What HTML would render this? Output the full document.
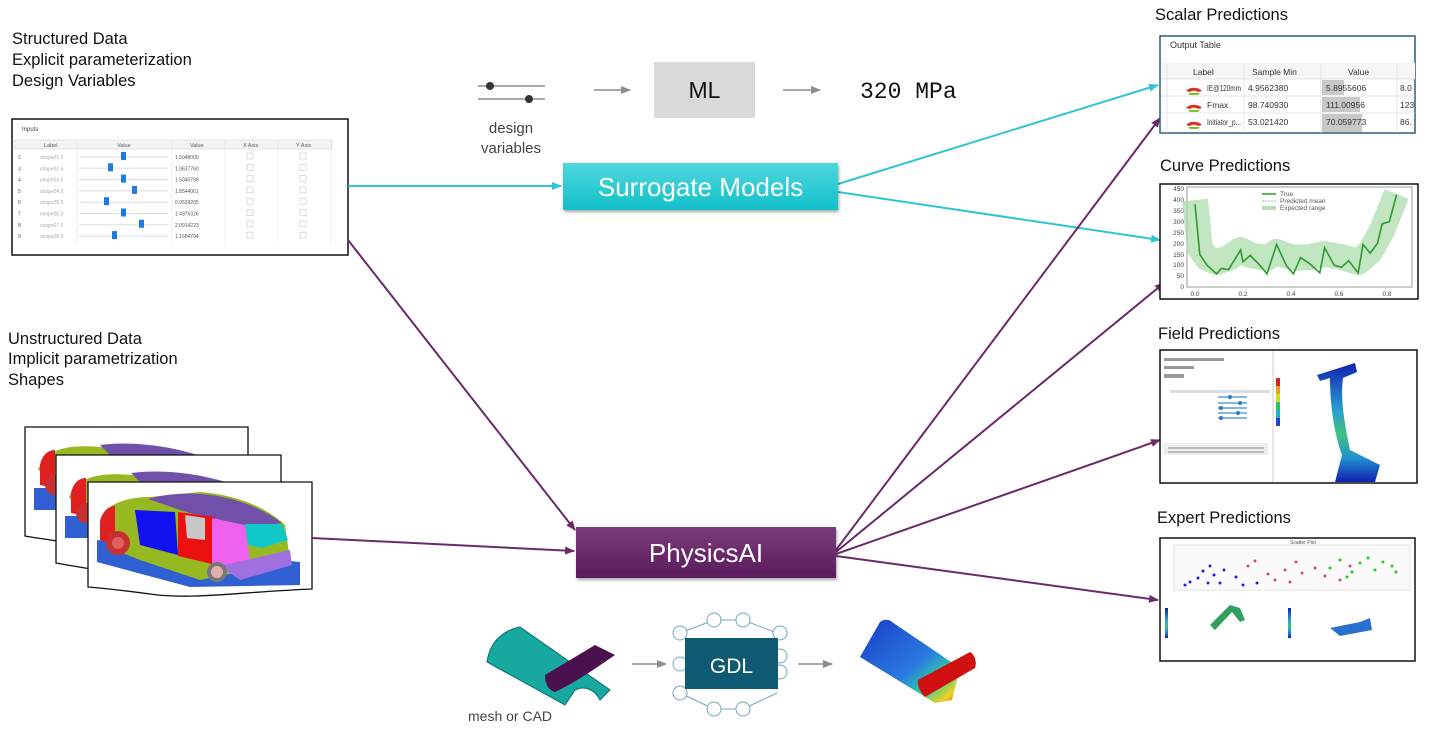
<!DOCTYPE html>
<html><head><meta charset="utf-8"><style>
html,body{margin:0;padding:0;background:#fff;}
svg{display:block;font-family:"Liberation Sans",Arial,sans-serif;}
</style></head><body>
<svg width="1430" height="737" viewBox="0 0 1430 737" xmlns="http://www.w3.org/2000/svg">
<defs>
<linearGradient id="cy" x1="0" y1="0" x2="0" y2="1"><stop offset="0" stop-color="#4fd8dd"/><stop offset="1" stop-color="#12bfc9"/></linearGradient>
<linearGradient id="pu" x1="0" y1="0" x2="0" y2="1"><stop offset="0" stop-color="#7a3c7a"/><stop offset="1" stop-color="#5a1a5c"/></linearGradient>
<linearGradient id="tube" x1="0" y1="0" x2="1" y2="1"><stop offset="0" stop-color="#1a3cc8"/><stop offset="0.55" stop-color="#2a7ae0"/><stop offset="0.75" stop-color="#30d0a0"/><stop offset="0.9" stop-color="#f0d020"/><stop offset="1" stop-color="#e04010"/></linearGradient>
<linearGradient id="beam" x1="0" y1="0" x2="0" y2="1"><stop offset="0" stop-color="#1020b0"/><stop offset="0.4" stop-color="#2aa0d0"/><stop offset="0.6" stop-color="#40c080"/><stop offset="0.8" stop-color="#2090d0"/><stop offset="1" stop-color="#1020b0"/></linearGradient>
<marker id="ac" markerWidth="10" markerHeight="10" refX="9" refY="5" orient="auto" markerUnits="userSpaceOnUse"><path d="M0,1 L10,5 L0,9 Z" fill="#2ec4d6"/></marker>
<marker id="ap" markerWidth="10" markerHeight="10" refX="9" refY="5" orient="auto" markerUnits="userSpaceOnUse"><path d="M0,1 L10,5 L0,9 Z" fill="#6a2a6a"/></marker>
<marker id="ag" markerWidth="10" markerHeight="10" refX="9" refY="5" orient="auto" markerUnits="userSpaceOnUse"><path d="M0,1 L10,5 L0,9 Z" fill="#8c8c8c"/></marker>
<filter id="sh" x="-5%" y="-10%" width="110%" height="130%"><feDropShadow dx="1" dy="2" stdDeviation="1.5" flood-opacity="0.35"/></filter>
</defs>

<!-- left texts -->
<g font-size="16.5" fill="#111">
<text x="12" y="44">Structured Data</text>
<text x="12" y="65">Explicit parameterization</text>
<text x="12" y="86">Design Variables</text>
<text x="8" y="344">Unstructured Data</text>
<text x="8" y="364">Implicit parametrization</text>
<text x="8" y="385">Shapes</text>
</g>

<!-- Inputs table -->
<rect x="12" y="119" width="336" height="136" fill="#fff" stroke="#111" stroke-width="1.5"/>
<text x="22" y="131" font-size="6" fill="#444">Inputs</text>
<rect x="14" y="140" width="318" height="9" fill="#f4f4f4" stroke="#ccc" stroke-width="0.5"/>
<g font-size="5.5" fill="#555">
<text x="44" y="147">Label</text><text x="117" y="147">Value</text><text x="190" y="147">Value</text><text x="243" y="147">X Axis</text><text x="296" y="147">Y Axis</text>
</g>
<g stroke="#ddd" stroke-width="0.5"><line x1="77" y1="140" x2="77" y2="243"/><line x1="172" y1="140" x2="172" y2="243"/><line x1="225" y1="140" x2="225" y2="243"/><line x1="278" y1="140" x2="278" y2="243"/><line x1="331" y1="140" x2="331" y2="243"/></g>
<g font-size="5" fill="#555">
<g><text x="18" y="159">2</text><text x="40" y="159" fill="#aaa">shape01.5</text><line x1="79" y1="157" x2="168" y2="157" stroke="#ddd"/><rect x="121" y="152" width="5" height="8" fill="#1e7be0"/><text x="175" y="159">1.5048000</text><rect x="247" y="153" width="6" height="6" fill="none" stroke="#bbb" stroke-width="0.5"/><rect x="300" y="153" width="6" height="6" fill="none" stroke="#bbb" stroke-width="0.5"/></g>
<g transform="translate(0,11.3)"><text x="18" y="159">3</text><text x="40" y="159" fill="#aaa">shape02.5</text><line x1="79" y1="157" x2="168" y2="157" stroke="#ddd"/><rect x="108" y="152" width="5" height="8" fill="#1e7be0"/><text x="175" y="159">1.0637760</text><rect x="247" y="153" width="6" height="6" fill="none" stroke="#bbb" stroke-width="0.5"/><rect x="300" y="153" width="6" height="6" fill="none" stroke="#bbb" stroke-width="0.5"/></g>
<g transform="translate(0,22.6)"><text x="18" y="159">4</text><text x="40" y="159" fill="#aaa">shape03.5</text><line x1="79" y1="157" x2="168" y2="157" stroke="#ddd"/><rect x="121" y="152" width="5" height="8" fill="#1e7be0"/><text x="175" y="159">1.5040798</text><rect x="247" y="153" width="6" height="6" fill="none" stroke="#bbb" stroke-width="0.5"/><rect x="300" y="153" width="6" height="6" fill="none" stroke="#bbb" stroke-width="0.5"/></g>
<g transform="translate(0,33.9)"><text x="18" y="159">5</text><text x="40" y="159" fill="#aaa">shape04.5</text><line x1="79" y1="157" x2="168" y2="157" stroke="#ddd"/><rect x="132" y="152" width="5" height="8" fill="#1e7be0"/><text x="175" y="159">1.8544061</text><rect x="247" y="153" width="6" height="6" fill="none" stroke="#bbb" stroke-width="0.5"/><rect x="300" y="153" width="6" height="6" fill="none" stroke="#bbb" stroke-width="0.5"/></g>
<g transform="translate(0,45.2)"><text x="18" y="159">6</text><text x="40" y="159" fill="#aaa">shape05.5</text><line x1="79" y1="157" x2="168" y2="157" stroke="#ddd"/><rect x="104" y="152" width="5" height="8" fill="#1e7be0"/><text x="175" y="159">0.9539205</text><rect x="247" y="153" width="6" height="6" fill="none" stroke="#bbb" stroke-width="0.5"/><rect x="300" y="153" width="6" height="6" fill="none" stroke="#bbb" stroke-width="0.5"/></g>
<g transform="translate(0,56.5)"><text x="18" y="159">7</text><text x="40" y="159" fill="#aaa">shape06.5</text><line x1="79" y1="157" x2="168" y2="157" stroke="#ddd"/><rect x="121" y="152" width="5" height="8" fill="#1e7be0"/><text x="175" y="159">1.4976326</text><rect x="247" y="153" width="6" height="6" fill="none" stroke="#bbb" stroke-width="0.5"/><rect x="300" y="153" width="6" height="6" fill="none" stroke="#bbb" stroke-width="0.5"/></g>
<g transform="translate(0,67.8)"><text x="18" y="159">8</text><text x="40" y="159" fill="#aaa">shape07.5</text><line x1="79" y1="157" x2="168" y2="157" stroke="#ddd"/><rect x="139" y="152" width="5" height="8" fill="#1e7be0"/><text x="175" y="159">2.0914223</text><rect x="247" y="153" width="6" height="6" fill="none" stroke="#bbb" stroke-width="0.5"/><rect x="300" y="153" width="6" height="6" fill="none" stroke="#bbb" stroke-width="0.5"/></g>
<g transform="translate(0,79.1)"><text x="18" y="159">9</text><text x="40" y="159" fill="#aaa">shape08.5</text><line x1="79" y1="157" x2="168" y2="157" stroke="#ddd"/><rect x="112" y="152" width="5" height="8" fill="#1e7be0"/><text x="175" y="159">1.1684704</text><rect x="247" y="153" width="6" height="6" fill="none" stroke="#bbb" stroke-width="0.5"/><rect x="300" y="153" width="6" height="6" fill="none" stroke="#bbb" stroke-width="0.5"/></g>
</g>

<!-- car frames -->
<g stroke="#111" stroke-width="1.3">
<g>
<path d="M25,427 H248 V540 C180,545 120,555 80,545 C55,540 35,538 25,536 Z" fill="#fff"/>
<path d="M34,488 H160 L168,510 H34 Z" fill="#2f5fd0" stroke="none"/>
<path d="M38,470 C45,448 70,443 110,448 L200,455 L230,470 L70,485 Z" fill="#96b820" stroke="none"/>
<path d="M40,465 C42,455 48,450 55,450 L55,488 L40,485 Z" fill="#e02020" stroke="none"/>
<circle cx="55" cy="485" r="10" fill="#c83030" stroke="none"/>
<path d="M100,445 C140,440 190,448 230,468 L180,470 L110,455 Z" fill="#7050a8" stroke="none"/>
</g>
<g>
<path d="M56,455 H281 V565 C210,570 150,580 110,572 C85,568 66,565 56,563 Z" fill="#fff"/>
<path d="M65,516 H190 L198,538 H65 Z" fill="#2f5fd0" stroke="none"/>
<path d="M69,498 C76,476 101,471 141,476 L231,483 L261,498 L101,513 Z" fill="#96b820" stroke="none"/>
<path d="M71,493 C73,483 79,478 86,478 L86,516 L71,513 Z" fill="#e02020" stroke="none"/>
<circle cx="86" cy="513" r="10" fill="#c83030" stroke="none"/>
<path d="M131,473 C171,468 221,476 261,496 L211,498 L141,483 Z" fill="#7050a8" stroke="none"/>
</g>
<g>
<path d="M88,482 H312 V589 C240,592 190,600 150,594 C120,590 100,588 88,587 Z" fill="#fff"/>
</g>
</g>
<!-- front car -->
<path d="M97,540 L97,562 L190,587 L300,585 L300,562 Z" fill="#2f5fd0"/>
<path d="M100,520 C105,505 125,497 150,497 L200,492 C240,495 270,510 285,525 L290,560 L250,570 L200,580 L140,560 L110,548 Z" fill="#96b820"/>
<path d="M148,499 C185,488 240,492 282,523 L240,528 L180,510 Z" fill="#7050a8"/>
<path d="M135,510 L175,512 L178,555 L140,545 Z" fill="#1010f0"/>
<path d="M178,512 L215,517 L212,564 L178,556 Z" fill="#ee1010"/>
<path d="M185,515 L205,518 L205,540 L187,538 Z" fill="#c8c8c8"/>
<path d="M212,518 L245,525 L250,560 L220,568 L212,564 Z" fill="#ee60ee"/>
<path d="M245,524 L282,524 L288,540 L262,548 L248,545 Z" fill="#10c8c8"/>
<path d="M220,566 L290,550 L292,565 L240,580 Z" fill="#a070e0"/>
<path d="M100,522 C102,512 108,506 115,506 L115,545 L100,540 Z" fill="#e02020"/>
<circle cx="118" cy="543" r="12" fill="#c83030"/><circle cx="118" cy="543" r="6" fill="#e06060"/>
<circle cx="217" cy="572" r="10" fill="#777"/><circle cx="217" cy="572" r="6" fill="#e0b0b0"/>

<!-- connectors -->
<g fill="none" stroke-width="2">
<line x1="348" y1="186" x2="561" y2="186" stroke="#2ec4d6" marker-end="url(#ac)"/>
<line x1="838" y1="184" x2="1158" y2="85" stroke="#2ec4d6" marker-end="url(#ac)"/>
<line x1="838" y1="192" x2="1160" y2="240" stroke="#2ec4d6" marker-end="url(#ac)"/>
<line x1="348" y1="240" x2="575" y2="530" stroke="#6a2a6a" marker-end="url(#ap)"/>
<line x1="312" y1="538" x2="574" y2="551" stroke="#6a2a6a" marker-end="url(#ap)"/>
<line x1="836" y1="550" x2="1160" y2="118" stroke="#6a2a6a" marker-end="url(#ap)"/>
<line x1="836" y1="552" x2="1164" y2="283" stroke="#6a2a6a" marker-end="url(#ap)"/>
<line x1="836" y1="554" x2="1160" y2="440" stroke="#6a2a6a" marker-end="url(#ap)"/>
<line x1="836" y1="556" x2="1158" y2="600" stroke="#6a2a6a" marker-end="url(#ap)"/>
</g>

<!-- ML top row -->
<g stroke="#555" stroke-width="1"><line x1="478" y1="86" x2="545" y2="86"/><line x1="478" y1="99" x2="545" y2="99"/></g>
<circle cx="490" cy="86" r="4" fill="#333"/><circle cx="529" cy="99" r="4" fill="#333"/>
<text x="511" y="133" font-size="15" fill="#444" text-anchor="middle">design</text>
<text x="511" y="153" font-size="15" fill="#444" text-anchor="middle">variables</text>
<line x1="594" y1="90" x2="630" y2="90" stroke="#8c8c8c" stroke-width="1.5" marker-end="url(#ag)"/>
<rect x="654" y="62" width="101" height="56" fill="#d9d9d9"/>
<text x="704.5" y="98" font-size="23" text-anchor="middle" fill="#111">ML</text>
<line x1="783" y1="90" x2="820" y2="90" stroke="#8c8c8c" stroke-width="1.5" marker-end="url(#ag)"/>
<text x="860" y="98" font-size="23" font-family="Liberation Mono, monospace" fill="#111">320 MPa</text>

<!-- Surrogate -->
<rect x="563" y="163" width="275" height="47" fill="url(#cy)" filter="url(#sh)"/>
<text x="700.5" y="196" font-size="26" fill="#fff" text-anchor="middle">Surrogate Models</text>

<!-- PhysicsAI -->
<rect x="576" y="527" width="260" height="51" fill="url(#pu)" filter="url(#sh)"/>
<text x="706" y="562" font-size="26" fill="#fff" text-anchor="middle">PhysicsAI</text>

<!-- bottom GDL row -->
<path d="M487,662 C490,640 505,630 520,627 L610,690 L600,700 C595,690 585,685 575,690 L565,705 Z" fill="#17a8a0" stroke="#0c6f70" stroke-width="1"/>
<path d="M545,675 L595,645 L615,655 C600,665 580,680 555,692 C548,690 545,683 545,675 Z" fill="#4a1050"/>
<text x="468" y="721" font-size="14" fill="#444">mesh or CAD</text>
<line x1="632" y1="664" x2="666" y2="664" stroke="#8c8c8c" stroke-width="1.5" marker-end="url(#ag)"/>
<g stroke="#6fa8b8" stroke-width="1" fill="#fff">
<line x1="714" y1="620" x2="743" y2="620"/><line x1="714" y1="709" x2="743" y2="709"/>
<line x1="680" y1="633" x2="714" y2="620"/><line x1="777" y1="633" x2="743" y2="620"/>
<line x1="680" y1="693" x2="714" y2="709"/><line x1="777" y1="693" x2="743" y2="709"/>
<circle cx="714" cy="620" r="7"/><circle cx="743" cy="620" r="7"/>
<circle cx="680" cy="633" r="7"/><circle cx="780" cy="633" r="7"/>
<circle cx="680" cy="664" r="7"/><circle cx="780" cy="656" r="7"/>
<circle cx="680" cy="693" r="7"/><circle cx="780" cy="672" r="7"/>
<circle cx="714" cy="709" r="7"/><circle cx="743" cy="709" r="7"/>
</g>
<rect x="685" y="638" width="93" height="51" fill="#0e5a73"/>
<text x="731.5" y="673" font-size="21" fill="#fff" text-anchor="middle">GDL</text>
<line x1="798" y1="664" x2="832" y2="664" stroke="#8c8c8c" stroke-width="1.5" marker-end="url(#ag)"/>
<path d="M860,657 L880,622 C885,618 890,620 892,622 L960,668 L952,700 L935,703 Z" fill="url(#tube)"/>
<path d="M918,680 L970,652 C975,655 977,662 975,668 L925,697 C920,692 917,686 918,680 Z" fill="#d01010"/>

<!-- Right titles -->
<g font-size="16.5" fill="#111">
<text x="1155" y="20">Scalar Predictions</text>
<text x="1160" y="171">Curve Predictions</text>
<text x="1158" y="339">Field Predictions</text>
<text x="1157" y="523">Expert Predictions</text>
</g>

<!-- Scalar table -->
<rect x="1160" y="36" width="255" height="97" fill="#fff" stroke="#2a5d78" stroke-width="1.5"/>
<text x="1170" y="48" font-size="9" fill="#333">Output Table</text>
<rect x="1161" y="63" width="254" height="16" fill="#f6f6f6"/>
<g stroke="#ddd" stroke-width="0.7"><line x1="1167" y1="63" x2="1167" y2="133"/><line x1="1244" y1="63" x2="1244" y2="133"/><line x1="1321" y1="63" x2="1321" y2="133"/><line x1="1397" y1="63" x2="1397" y2="133"/><line x1="1161" y1="79" x2="1415" y2="79"/><line x1="1161" y1="96" x2="1415" y2="96"/><line x1="1161" y1="113" x2="1415" y2="113"/></g>
<g font-size="8.5" fill="#333">
<text x="1193" y="75">Label</text><text x="1252" y="75">Sample Min</text><text x="1348" y="75">Value</text>
<rect x="1322" y="80" width="22" height="15" fill="#c8c8c8"/><rect x="1322" y="97" width="38" height="15" fill="#c8c8c8"/><rect x="1322" y="114" width="40" height="18" fill="#c8c8c8"/>
<text x="1207" y="91" textLength="34" lengthAdjust="spacingAndGlyphs">IE@120mm</text><text x="1248" y="91">4.9562380</text><text x="1326" y="91">5.8955606</text><text x="1400" y="91">8.0</text>
<text x="1207" y="108">Fmax</text><text x="1248" y="108">98.740930</text><text x="1326" y="108">111.00956</text><text x="1400" y="108">123</text>
<text x="1207" y="125" textLength="34" lengthAdjust="spacingAndGlyphs">Initiator_p...</text><text x="1248" y="125">53.021420</text><text x="1326" y="125">70.059773</text><text x="1400" y="125">86.</text>
</g>
<g>
<path d="M1186,91 a9,6 0 0 1 16,0 l-4,1 a5,3 0 0 0 -8,0 z" fill="#e03020"/><path d="M1188,93 l12,0 l-2,2 l-8,0z" fill="#80c020"/>
<path d="M1186,108 a9,6 0 0 1 16,0 l-4,1 a5,3 0 0 0 -8,0 z" fill="#e03020"/><path d="M1188,110 l12,0 l-2,2 l-8,0z" fill="#80c020"/>
<path d="M1186,125 a9,6 0 0 1 16,0 l-4,1 a5,3 0 0 0 -8,0 z" fill="#e03020"/><path d="M1188,127 l12,0 l-2,2 l-8,0z" fill="#80c020"/>
</g>

<!-- Curve plot -->
<rect x="1160" y="184" width="258" height="115" fill="#fff" stroke="#111" stroke-width="1.5"/>
<rect x="1187" y="187" width="225" height="100" fill="none" stroke="#555" stroke-width="0.6"/>
<g font-size="6.5" fill="#444" text-anchor="end">
<text x="1184" y="191">450</text><text x="1184" y="202">400</text><text x="1184" y="213">350</text><text x="1184" y="224">300</text><text x="1184" y="235">250</text><text x="1184" y="246">200</text><text x="1184" y="257">150</text><text x="1184" y="267">100</text><text x="1184" y="278">50</text><text x="1184" y="289">0</text>
</g>
<g font-size="6.5" fill="#444" text-anchor="middle"><text x="1195" y="296">0.0</text><text x="1243" y="296">0.2</text><text x="1291" y="296">0.4</text><text x="1339" y="296">0.6</text><text x="1387" y="296">0.8</text></g>
<path d="M1195,200 L1199.8,248 L1207,258 L1216.6,262 L1228.6,258 L1240.6,250 L1250.2,255 L1267,258 L1276.6,252 L1293.4,258 L1310.2,257 L1324.6,254 L1341.4,257 L1358.2,262 L1370.2,252 L1382.2,230 L1396.6,194" fill="none" stroke="#a8dca8" stroke-width="26" stroke-opacity="0.7" stroke-linejoin="round"/>
<path d="M1195,204.2 L1199.8,254.3 L1207,265.2 L1216.6,273.9 L1221.4,268.5 L1228.6,269.6 L1240.6,249.9 L1243,261.9 L1250.2,255.4 L1259.8,265.2 L1267,273.9 L1276.6,244.5 L1286.2,265.2 L1293.4,273.9 L1300.6,257.6 L1310.2,264.1 L1319.8,272.8 L1324.6,247.8 L1334.2,265.2 L1341.4,267.4 L1348.6,260.8 L1358.2,272.8 L1363,244.5 L1370.2,253.2 L1377.4,243.4 L1382.2,223.8 L1389.4,221.6 L1396.6,194.4" fill="none" stroke="#2e9a2e" stroke-width="1.6"/>
<g font-size="6.5" fill="#555"><line x1="1262" y1="194" x2="1276" y2="194" stroke="#2e9a2e" stroke-width="1.5"/><text x="1280" y="196">True</text>
<line x1="1262" y1="201" x2="1276" y2="201" stroke="#8ccf8c" stroke-dasharray="2,1"/><text x="1280" y="203">Predicted mean</text>
<rect x="1262" y="206" width="14" height="4" fill="#b8e0b8"/><text x="1280" y="210">Expected range</text></g>

<!-- Field -->
<rect x="1160" y="350" width="257" height="133" fill="#fff" stroke="#111" stroke-width="1.5"/>
<line x1="1273" y1="351" x2="1273" y2="482" stroke="#ccc"/>
<g fill="#999"><rect x="1164" y="358" width="60" height="3"/><rect x="1164" y="366" width="30" height="3"/><rect x="1164" y="374" width="20" height="4"/><rect x="1170" y="390" width="100" height="3" fill="#ddd"/></g>
<g stroke="#3a8ad0" stroke-width="1.2"><line x1="1218" y1="397" x2="1247" y2="397"/><line x1="1218" y1="403" x2="1247" y2="403"/><line x1="1218" y1="408" x2="1247" y2="408"/><line x1="1218" y1="413" x2="1247" y2="413"/><line x1="1218" y1="418" x2="1247" y2="418"/></g>
<g fill="#2a7ac8"><circle cx="1230" cy="397" r="2"/><circle cx="1240" cy="403" r="2"/><circle cx="1221" cy="408" r="2"/><circle cx="1238" cy="413" r="2"/><circle cx="1221" cy="418" r="2"/></g>
<rect x="1163" y="443" width="105" height="12" fill="#eee"/>
<g fill="#bbb"><rect x="1168" y="447" width="96" height="2"/><rect x="1168" y="451" width="96" height="2"/></g>
<rect x="1276" y="378" width="4" height="8" fill="#e02020"/><rect x="1276" y="386" width="4" height="8" fill="#f0a020"/><rect x="1276" y="394" width="4" height="8" fill="#d0e020"/><rect x="1276" y="402" width="4" height="8" fill="#30c060"/><rect x="1276" y="410" width="4" height="8" fill="#20b0d0"/><rect x="1276" y="418" width="4" height="8" fill="#2040d0"/>
<path d="M1317,375 L1355,363 L1357,372 L1343,378 C1340,400 1345,425 1350,450 L1380,465 L1375,482 L1335,482 L1342,455 C1333,430 1330,400 1330,378 L1320,381 Z" fill="url(#beam)"/>

<!-- Expert -->
<rect x="1160" y="538" width="255" height="123" fill="#fff" stroke="#111" stroke-width="1.5"/>
<rect x="1174" y="545" width="236" height="45" fill="#fafafa" stroke="#ccc" stroke-width="0.5"/>
<text x="1290" y="544" font-size="5" fill="#555">Scatter Plot</text>
<g fill="#2020e0"><circle cx="1185" cy="585" r="1.5"/><circle cx="1190" cy="582" r="1.5"/><circle cx="1198" cy="578" r="1.5"/><circle cx="1203" cy="571" r="1.5"/><circle cx="1210" cy="566" r="1.5"/><circle cx="1214" cy="575" r="1.5"/><circle cx="1220" cy="583" r="1.5"/><circle cx="1224" cy="570" r="1.5"/><circle cx="1236" cy="577" r="1.5"/><circle cx="1243" cy="585" r="1.5"/><circle cx="1208" cy="583" r="1.5"/><circle cx="1257" cy="583" r="1.5"/></g>
<g fill="#e04090"><circle cx="1248" cy="566" r="1.5"/><circle cx="1255" cy="561" r="1.5"/><circle cx="1268" cy="574" r="1.5"/><circle cx="1275" cy="580" r="1.5"/><circle cx="1285" cy="570" r="1.5"/><circle cx="1296" cy="562" r="1.5"/><circle cx="1302" cy="573" r="1.5"/><circle cx="1315" cy="568" r="1.5"/><circle cx="1325" cy="576" r="1.5"/><circle cx="1340" cy="580" r="1.5"/><circle cx="1350" cy="566" r="1.5"/><circle cx="1290" cy="582" r="1.5"/></g>
<g fill="#20d020"><circle cx="1330" cy="568" r="1.5"/><circle cx="1340" cy="560" r="1.5"/><circle cx="1352" cy="572" r="1.5"/><circle cx="1360" cy="563" r="1.5"/><circle cx="1368" cy="558" r="1.5"/><circle cx="1375" cy="570" r="1.5"/><circle cx="1383" cy="562" r="1.5"/><circle cx="1392" cy="566" r="1.5"/><circle cx="1396" cy="572" r="1.5"/><circle cx="1347" cy="577" r="1.5"/></g>
<g><rect x="1165" y="608" width="3" height="30" fill="url(#beam)"/><rect x="1288" y="608" width="3" height="30" fill="url(#beam)"/>
<path d="M1210,625 L1230,605 L1240,608 L1245,620 L1240,622 L1232,612 L1215,630 Z" fill="#30a060"/>
<path d="M1330,628 L1360,622 L1370,618 L1372,630 L1340,636 Z" fill="#2a70d0"/></g>
</svg>
</body></html>
